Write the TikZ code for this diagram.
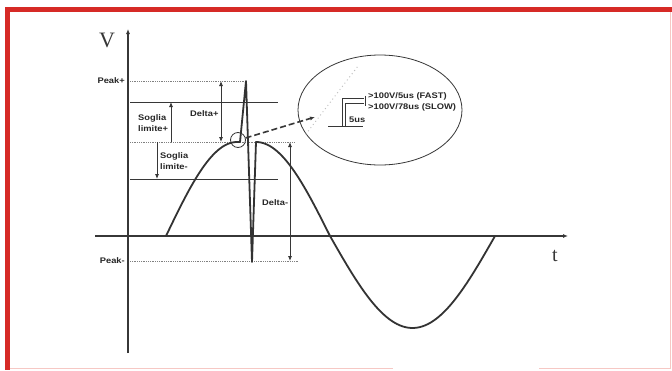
\documentclass[tikz,border=0pt]{standalone}
\usepackage{fontspec}
\setmainfont{Liberation Serif}
\setsansfont{Liberation Sans}
\usetikzlibrary{arrows.meta,shapes.geometric}
\definecolor{framered}{RGB}{214,42,38}
\definecolor{framepink}{RGB}{246,200,196}
\definecolor{ink}{RGB}{55,55,55}
\tikzset{
  tag/.style={font=\sffamily\bfseries\fontsize{8.1}{10.5}\selectfont, text=black!85, xscale=1.15, inner sep=0pt, align=left},
  level/.style={ink, line width=0.8pt},
  peakline/.style={gray, line width=0.8pt, densely dotted},
  measure/.style={ink, line width=0.8pt},
  wave/.style={black!80, line width=1.8pt, line join=round},
}
\begin{document}
\begin{tikzpicture}[x=1pt,y=-1pt,>={Latex[length=5pt,width=4pt]}]
\useasboundingbox (0,0) rectangle (672,370);
% frame
\fill[white] (0,0) rectangle (672,370);
\draw[framepink, line width=1pt] (8,368) -- (393,368) (539,368) -- (670,368) -- (670,10);
\fill[framered] (5,7) rectangle (672,12);
\fill[framered] (5,7) rectangle (10,370);

% axes
\draw[ink, line width=1.2pt, ->] (128,353) -- (128,29);
\draw[ink, line width=1.2pt, ->] (95,236) -- (568,236);
\node[font=\fontsize{22}{22}\selectfont, text=ink] (vlab) at (107,40) {V};
\node[font=\fontsize{20}{20}\selectfont, text=ink] (tlab) at (555,256) {t};

% levels
\draw[peakline] (130,81) -- (246,81);
\draw[level] (130,102) -- (278,102);
\draw[peakline] (130,142) -- (295,142);
\draw[level] (130,179) -- (278,179);
\draw[peakline] (130,261) -- (298,261);

\node[tag, anchor=east] (peakp) at (125,81) {Peak+};
\node[tag, anchor=east] (peakm) at (125,261) {Peak-};
\node[tag, anchor=west] (sogliap) at (138,123) {Soglia\\limite+};
\node[tag, anchor=west] (sogliam) at (160,161) {Soglia\\limite-};
\node[tag, anchor=west] (deltap) at (190,114) {Delta+};
\node[tag, anchor=west] (deltam) at (262,203) {Delta-};

% measures
\draw[measure,<->] (221,81) -- (221,142);
\draw[measure,->] (171,142) -- (171,102);
\draw[measure,->] (157,142) -- (157,179);
\draw[measure,<->] (290,142) -- (290,261);

% signal with spike
\draw[wave] plot[domain=166:237, samples=40] (\x,{236-94*sin((\x-166)/71*90)})
  -- (240,142) -- (246,81) -- (252,262) -- (256,142)
  -- plot[domain=256:330, samples=40] (\x,{236-94*cos((\x-256)/74*90)})
  -- plot[domain=330:495, samples=60] (\x,{236+92*sin((\x-330)/165*180)});

% zoom
\node[circle, draw=ink, line width=0.8pt, minimum size=15pt, inner sep=0pt] (spot) at (238,140) {};
\node[ellipse, draw=ink, line width=0.8pt, minimum width=164pt, minimum height=110pt, inner sep=0pt] (lens) at (380,110) {};
\coordinate (lensin) at (315,117);
\draw[ink, line width=1.6pt, dash pattern=on 6pt off 3pt, ->] (spot.15) -- (lensin);

\draw[gray!50, line width=1.4pt, line cap=round, dash pattern=on 0pt off 4pt] (306,134) -- (358,66);
\draw[ink, line width=0.8pt] (328,126) -- (363,126);
\draw[ink, line width=0.8pt] (342,126) -- (342,98) -- (364,98);
\draw[ink, line width=0.8pt] (345,126) -- (345,103) -- (364,103);
\draw[ink, line width=0.8pt] (365,95.5) -- (365,105.5);

\node[tag, anchor=west] (fast) at (368,96) {>100V/5us (FAST)};
\node[tag, anchor=west] (slow) at (368,107) {>100V/78us (SLOW)};
\node[tag, anchor=west] (tfive) at (349,120) {5us};
\end{tikzpicture}
\end{document}
